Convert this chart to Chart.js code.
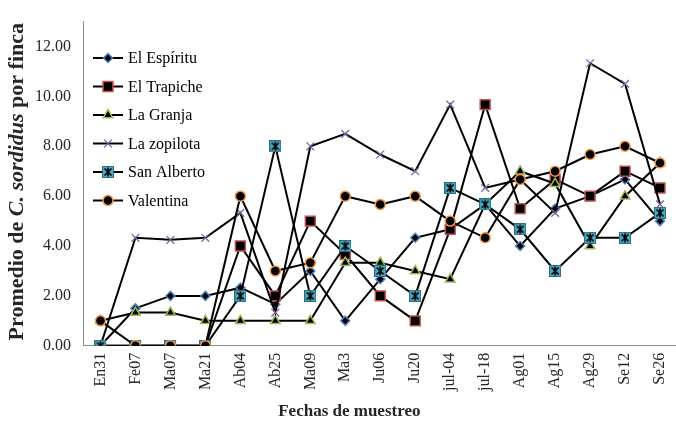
<!DOCTYPE html>
<html>
<head>
<meta charset="utf-8">
<script src="https://cdn.jsdelivr.net/npm/chart.js@4/dist/chart.umd.min.js"></script>
<style>
  html, body { margin: 0; padding: 0; background: #ffffff; overflow: hidden; }
  #wrap { width: 676px; height: 425px; overflow: hidden; }
  #c { display: block; }
</style>
</head>
<body>
<div id="wrap"><canvas id="c" width="686" height="425"></canvas></div>
<script>
// ---- data ----
const categories = ['En31','Fe07','Ma07','Ma21','Ab04','Ab25','Ma09','Ma3','Ju06','Ju20','jul-04','jul-18','Ag01','Ag15','Ag29','Se12','Se26'];
const seriesNames = ['El Espíritu','El Trapiche','La Granja','La zopilota','San Alberto','Valentina'];
const elEspiritu = [0,1.5,2,2,2.33,1.67,3,1,2.67,4.33,4.67,5.67,4,5.5,6,6.67,5];
const elTrapiche = [0,0,0,0,4,2,5,3.67,2,1,4.67,9.67,5.5,6.67,6,7,6.33];
const laGranja   = [1,1.33,1.33,1,1,1,1,3.33,3.33,3,2.67,5.67,7,6.5,4,6,7.33];
const laZopilota = [0,4.33,4.25,4.33,5.33,1.33,8,8.5,7.67,7,9.67,6.33,6.67,5.33,11.33,10.5,5.67];
const sanAlberto = [0,0,0,0,2,8,2,4,3,2,6.33,5.67,4.67,3,4.33,4.33,5.33];
const valentina  = [1,0,0,0,6,3,3.33,6,5.67,6,5,4.33,6.67,7,7.67,8,7.33];
const yTicks = [0,2,4,6,8,10,12];
const xTitle = 'Fechas de muestreo';
const yTitleParts = [['Promedio de ', false], ['C. sordidus', true], [' por finca', false]];

// ---- San Alberto marker (teal square with black asterisk) ----
function makeStarSquare() {
  const c = document.createElement('canvas');
  c.width = 12; c.height = 12;
  const g = c.getContext('2d');
  g.fillStyle = '#4BACC6';
  g.fillRect(0.5, 0.5, 11, 11);
  g.strokeStyle = '#2c6e7f';
  g.lineWidth = 1;
  g.strokeRect(0.5, 0.5, 11, 11);
  g.strokeStyle = '#000';
  g.lineWidth = 1.7;
  g.beginPath();
  g.moveTo(2.5, 2.5); g.lineTo(9.5, 9.5);
  g.moveTo(9.5, 2.5); g.lineTo(2.5, 9.5);
  g.moveTo(6, 1.5); g.lineTo(6, 10.5);
  g.stroke();
  return c;
}
const starSquare = makeStarSquare();

const styles = [
  { pointStyle: 'rectRot', pointRadius: 4.5, pointBackgroundColor: '#000', pointBorderColor: '#4F81BD', pointBorderWidth: 1.5 },
  { pointStyle: 'rect', pointRadius: 7, pointBackgroundColor: '#000', pointBorderColor: '#C0504D', pointBorderWidth: 1.5 },
  { pointStyle: 'triangle', pointRadius: 5.5, pointBackgroundColor: '#000', pointBorderColor: '#9BBB59', pointBorderWidth: 1.5 },
  { pointStyle: 'crossRot', pointRadius: 5.5, pointBackgroundColor: '#8064A2', pointBorderColor: '#8064A2', pointBorderWidth: 1.3 },
  { pointStyle: starSquare, pointRadius: 6, pointBackgroundColor: '#4BACC6', pointBorderColor: '#000', pointBorderWidth: 1 },
  { pointStyle: 'circle', pointRadius: 5, pointBackgroundColor: '#000', pointBorderColor: '#F79646', pointBorderWidth: 1.5 }
];
const allData = [elEspiritu, elTrapiche, laGranja, laZopilota, sanAlberto, valentina];

const datasets = allData.map((d, i) => Object.assign({
  label: seriesNames[i],
  data: d,
  borderColor: '#000',
  borderWidth: 2,
  tension: 0,
  fill: false,
  order: allData.length - i,
  pointHoverRadius: styles[i].pointRadius
}, styles[i]));

const SERIF = '"Liberation Serif", "Times New Roman", serif';
const TEXT = '#262626';

// ---- custom legend inside plot ----
const insideLegend = {
  id: 'insideLegend',
  afterDraw(chart) {
    const ctx = chart.ctx;
    const x0 = 93, x1 = 123, tx = 128;
    const y0 = 58, dy = 28.5;
    ctx.save();
    datasets.forEach((ds, i) => {
      const y = y0 + i * dy;
      ctx.strokeStyle = '#000';
      ctx.lineWidth = 2;
      ctx.beginPath();
      ctx.moveTo(x0, y); ctx.lineTo(x1, y);
      ctx.stroke();
      ctx.fillStyle = ds.pointBackgroundColor;
      ctx.strokeStyle = ds.pointBorderColor;
      ctx.lineWidth = ds.pointBorderWidth;
      Chart.helpers.drawPoint(ctx, {
        pointStyle: ds.pointStyle, radius: ds.pointRadius, rotation: 0, borderWidth: ds.pointBorderWidth
      }, (x0 + x1) / 2, y);
      ctx.fillStyle = '#000';
      ctx.font = '16px ' + SERIF;
      ctx.textAlign = 'left';
      ctx.textBaseline = 'middle';
      ctx.fillText(ds.label, tx, y + 1);
    });
    ctx.restore();
  }
};

// ---- axis titles (y title has mixed styles) ----
const titlesPlugin = {
  id: 'titlesPlugin',
  afterDraw(chart) {
    const ctx = chart.ctx;
    const ca = chart.chartArea;
    // x title
    ctx.save();
    ctx.font = 'bold 17px ' + SERIF;
    ctx.fillStyle = TEXT;
    ctx.textAlign = 'center';
    ctx.textBaseline = 'middle';
    ctx.fillText(xTitle, ca.left + (ca.right - ca.left) * 0.448, 412);
    ctx.restore();
    // y title
    const size = 22;
    const fonts = [ 'bold ' + size + 'px ' + SERIF, 'italic bold ' + size + 'px ' + SERIF ];
    ctx.save();
    let total = 0;
    const widths = yTitleParts.map(p => { ctx.font = p[1] ? fonts[1] : fonts[0]; const w = ctx.measureText(p[0]).width; total += w; return w; });
    const cy = (ca.top + ca.bottom) / 2 - 2;
    ctx.translate(17, cy);
    ctx.rotate(-Math.PI / 2);
    ctx.fillStyle = TEXT;
    ctx.textBaseline = 'middle';
    ctx.textAlign = 'left';
    let x = -total / 2;
    yTitleParts.forEach((p, i) => {
      ctx.font = p[1] ? fonts[1] : fonts[0];
      ctx.fillText(p[0], x, 0);
      x += widths[i];
    });
    ctx.restore();
  }
};

new Chart(document.getElementById('c'), {
  type: 'line',
  data: { labels: categories, datasets: datasets },
  options: {
    responsive: false,
    devicePixelRatio: 1,
    animation: false,
    layout: { padding: { left: 0, top: 11, right: 0, bottom: 27 } },
    plugins: { legend: { display: false }, tooltip: { enabled: false } },
    scales: {
      x: {
        type: 'category',
        offset: true,
        grid: { display: false, drawTicks: false },
        border: { display: true, color: '#8c8c8c', width: 1 },
        afterFit(axis) { axis.paddingLeft = 0; axis.paddingRight = 0; },
        ticks: {
          minRotation: 90, maxRotation: 90, autoSkip: false, padding: 7,
          color: TEXT, font: { family: SERIF, size: 16 }
        }
      },
      y: {
        min: 0, max: 13,
        grid: { display: false, drawTicks: false },
        border: { display: true, color: '#8c8c8c', width: 1 },
        afterBuildTicks(axis) { axis.ticks = yTicks.map(v => ({ value: v })); },
        afterFit(axis) { axis.width = 83; },
        ticks: {
          padding: 12, color: TEXT,
          font: { family: SERIF, size: 16 },
          callback: v => Number(v).toFixed(2)
        }
      }
    }
  },
  plugins: [insideLegend, titlesPlugin]
});
</script>
</body>
</html>
